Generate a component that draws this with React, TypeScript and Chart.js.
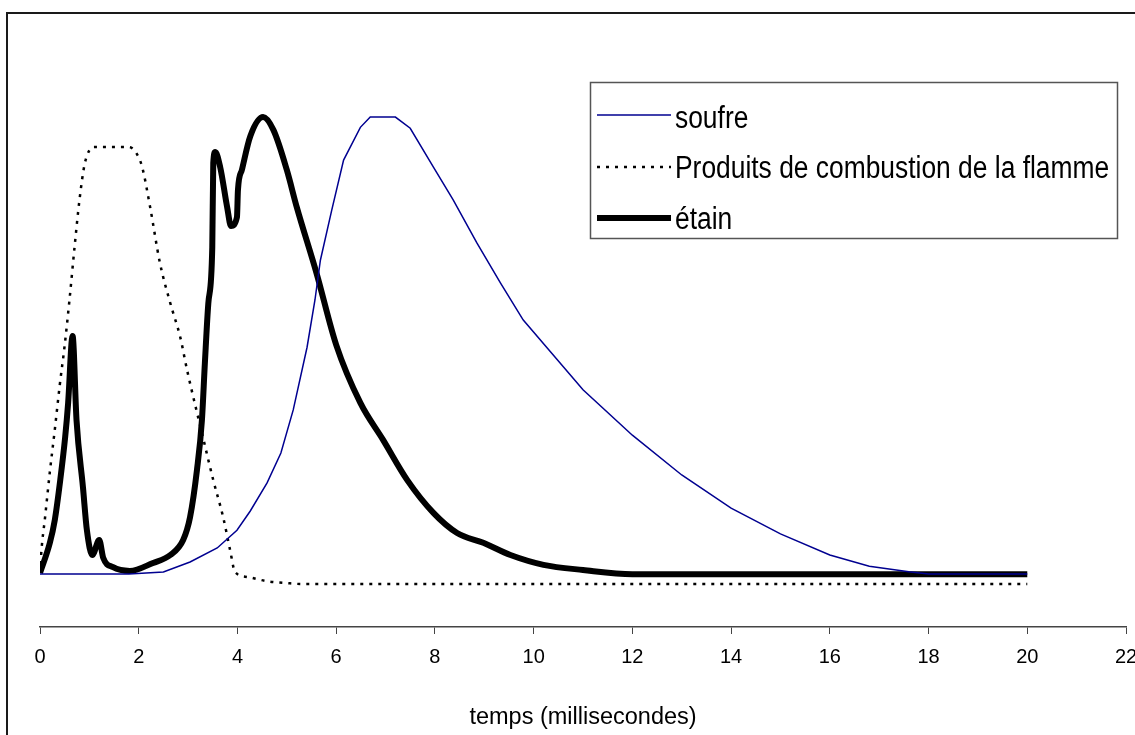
import React, { useEffect, useRef } from "react";
import { Chart, registerables } from "chart.js";

Chart.register(...registerables);

// time axis (milliseconds)
const xTicksMin = 0;
const xTicksMax = 22;
const xTickStep = 2;

// soufre (sulfur)
const soufreX = [0, 1.0, 1.8, 2.5, 3.04, 3.59, 3.99, 4.26, 4.6, 4.88, 5.13, 5.41, 5.57, 5.68, 5.91, 6.15, 6.49, 6.69, 7.2, 7.5, 7.97, 8.37, 8.85, 9.33, 9.79, 10.28, 11, 12, 13, 14, 15, 16, 16.8, 17.6, 18, 20];
const soufreY = [2.14, 2.14, 2.14, 2.56, 4.7, 7.7, 11.5, 15.6, 21.6, 28.0, 37.2, 50.6, 60.7, 69.2, 79.9, 90.6, 97.6, 99.8, 99.8, 97.4, 89.1, 82.1, 72.9, 64.3, 56.4, 50.4, 41.5, 31.8, 23.3, 16.2, 10.7, 6.2, 3.8, 2.6, 2.14, 2.14];

// Produits de combustion de la flamme
const flammeX = [0, 0.03, 0.1, 0.2, 0.3, 0.4, 0.5, 0.6, 0.7, 0.8, 0.9, 1.0, 1.1, 1.8, 1.95, 2.07, 2.23, 2.43, 2.64, 2.84, 2.98, 3.3, 3.51, 3.71, 3.85, 3.95, 4.2, 4.6, 5.0, 5.3, 6, 8, 10, 12, 14, 16, 18, 20];
const flammeY = [2.35, 7.3, 14.0, 24.0, 33.0, 42.5, 51.0, 61.0, 72.0, 82.1, 89.5, 92.7, 93.4, 93.4, 92.1, 89.1, 80.6, 68.6, 60.0, 52.8, 45.7, 31.4, 22.2, 14.3, 7.3, 2.6, 1.5, 0.6, 0.2, 0, 0, 0, 0, 0, 0, 0, 0, 0];

// étain (tin)
const etainX = [0, 0.2, 0.3, 0.41, 0.51, 0.57, 0.66, 0.74, 0.87, 0.95, 1.06, 1.2, 1.28, 1.48, 1.82, 2.29, 2.64, 2.9, 3.04, 3.18, 3.28, 3.34, 3.41, 3.49, 3.51, 3.55, 3.65, 3.79, 3.87, 3.99, 4.01, 4.09, 4.26, 4.52, 4.73, 5.0, 5.2, 5.6, 6.0, 6.49, 6.95, 7.44, 7.97, 8.45, 8.98, 9.53, 10.2, 11.0, 12.0, 14, 16, 18, 20];
const etainY = [2.35, 8.8, 13.7, 22.2, 31.4, 38.7, 53.0, 35.0, 20.7, 11.5, 6.2, 9.4, 5.6, 3.6, 2.8, 4.5, 6.2, 9.4, 14.3, 24.4, 35.0, 47.2, 60.0, 72.0, 90.0, 92.3, 89.1, 80.6, 76.5, 78.4, 84.2, 88.5, 95.7, 99.8, 97.0, 88.5, 80.6, 66.5, 51.1, 38.7, 30.8, 22.2, 15.2, 10.9, 8.8, 6.2, 4.1, 3.0, 2.1, 2.1, 2.1, 2.1, 2.1];

const seriesLabels = ["soufre", "Produits de combustion de la flamme", "étain"];
const xTitle = "temps (millisecondes)";

const FONT = 'Arial, "Liberation Sans", sans-serif';

const toPoints = (xs: number[], ys: number[]) => xs.map((x, i) => ({ x, y: ys[i] }));

const framePlugin = {
  id: "frame",
  beforeDraw(chart: any) {
    const ctx = chart.ctx;
    ctx.save();
    ctx.fillStyle = "#ffffff";
    ctx.fillRect(0, 0, chart.width, chart.height);
    ctx.fillStyle = "#1a1a1a";
    ctx.fillRect(6, 12, 2, chart.height);
    ctx.fillRect(6, 12, chart.width, 2);
    ctx.restore();
  },
};

const boxLegendPlugin = {
  id: "boxLegend",
  afterDraw(chart: any) {
    const ctx = chart.ctx;
    const left = 590, top = 82, right = 1118, bottom = 239;
    ctx.save();
    ctx.fillStyle = "#ffffff";
    ctx.fillRect(left, top, right - left, bottom - top);
    ctx.strokeStyle = "#555555";
    ctx.lineWidth = 1.5;
    ctx.strokeRect(left + 0.5, top + 0.5, right - left - 1, bottom - top - 1);
    const lineYs = [115, 167, 218];
    const textYs = [119, 169, 220];
    chart.data.datasets.forEach((ds: any, i: number) => {
      ctx.save();
      ctx.strokeStyle = ds.borderColor;
      ctx.lineWidth = ds.borderWidth;
      ctx.setLineDash(ds.borderDash || []);
      ctx.lineCap = "butt";
      ctx.beginPath();
      ctx.moveTo(597, lineYs[i]);
      ctx.lineTo(671, lineYs[i]);
      ctx.stroke();
      ctx.restore();
      ctx.save();
      ctx.fillStyle = "#000000";
      ctx.font = `26.4px ${FONT}`;
      ctx.textBaseline = "middle";
      ctx.textAlign = "left";
      ctx.translate(675, textYs[i]);
      ctx.scale(1, 1.2);
      ctx.fillText(ds.label, 0, 0);
      ctx.restore();
    });
    ctx.restore();
  },
};

export default function App() {
  const canvasRef = useRef<HTMLCanvasElement | null>(null);

  useEffect(() => {
    if (!canvasRef.current) return;
    Chart.defaults.font.family = FONT;
    Chart.defaults.color = "#000000";
    const chart = new Chart(canvasRef.current, {
      type: "line",
      data: {
        datasets: [
          {
            label: seriesLabels[0],
            data: toPoints(soufreX, soufreY),
            borderColor: "#000090",
            borderWidth: 1.5,
            pointRadius: 0,
            tension: 0,
            fill: false,
          },
          {
            label: seriesLabels[1],
            data: toPoints(flammeX, flammeY),
            borderColor: "#000000",
            borderWidth: 2.5,
            borderDash: [3, 6],
            borderCapStyle: "butt",
            pointRadius: 0,
            tension: 0.2,
            cubicInterpolationMode: "monotone",
            fill: false,
          },
          {
            label: seriesLabels[2],
            data: toPoints(etainX, etainY),
            borderColor: "#000000",
            borderWidth: 6,
            borderJoinStyle: "round",
            borderCapStyle: "butt",
            pointRadius: 0,
            cubicInterpolationMode: "monotone",
            fill: false,
          },
        ],
      },
      options: {
        animation: false,
        responsive: false,
        devicePixelRatio: 1,
        layout: { padding: { left: 40, right: 44, top: 30, bottom: 0 } },
        plugins: {
          legend: { display: false },
          tooltip: { enabled: false },
        },
        scales: {
          x: {
            type: "linear",
            min: xTicksMin,
            max: xTicksMax,
            ticks: {
              stepSize: xTickStep,
              autoSkip: false,
              maxRotation: 0,
              padding: 11,
              color: "#000000",
              font: { size: 20, family: FONT },
            },
            grid: {
              display: true,
              drawOnChartArea: false,
              drawTicks: true,
              tickLength: 7,
              color: "#444444",
              lineWidth: 1,
            },
            border: { display: true, color: "#444444", width: 1.5 },
            title: {
              display: true,
              text: xTitle,
              color: "#000000",
              font: { size: 23.5, family: FONT },
              padding: { top: 0, bottom: 3 },
            },
            afterFit: (scale: any) => {
              scale.height = 108;
            },
          },
          y: {
            type: "linear",
            display: false,
            min: -9.19,
            max: 118.4,
          },
        },
      },
      plugins: [framePlugin, boxLegendPlugin],
    });
    return () => chart.destroy();
  }, []);

  return (
    <div
      style={{
        position: "fixed",
        left: 0,
        top: 0,
        width: 1135,
        height: 735,
        overflow: "hidden",
        background: "#ffffff",
      }}
    >
      <canvas ref={canvasRef} width={1170} height={735} style={{ display: "block" }} />
    </div>
  );
}
